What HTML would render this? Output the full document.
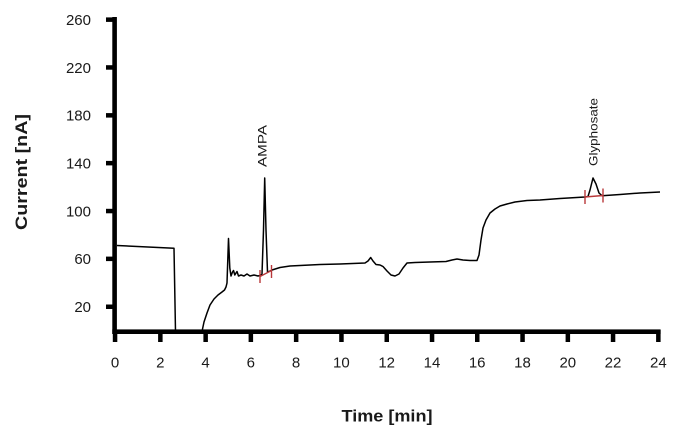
<!DOCTYPE html>
<html>
<head>
<meta charset="utf-8">
<style>
  html,body{margin:0;padding:0;background:#fff;}
  svg{display:block;}
  text{font-family:"Liberation Sans", sans-serif;fill:#1a1a1a;}
</style>
</head>
<body>
<svg width="680" height="431" viewBox="0 0 680 431" xmlns="http://www.w3.org/2000/svg">
  <rect x="0" y="0" width="680" height="431" fill="#fff"/>

  <!-- Y axis -->
  <rect x="112.3" y="17" width="4.6" height="317" fill="#000"/>
  <!-- Y ticks -->
  <g fill="#000">
    <rect x="106" y="17.4" width="8" height="4.5"/>
    <rect x="106" y="65.2" width="8" height="4.5"/>
    <rect x="106" y="113.1" width="8" height="4.5"/>
    <rect x="106" y="160.9" width="8" height="4.5"/>
    <rect x="106" y="208.8" width="8" height="4.5"/>
    <rect x="106" y="256.6" width="8" height="4.5"/>
    <rect x="106" y="304.5" width="8" height="4.5"/>
  </g>
  <!-- X axis -->
  <rect x="112.3" y="329.4" width="548.3" height="4.6" fill="#000"/>
  <!-- X ticks -->
  <g fill="#000">
    <rect x="112.8" y="330" width="4.5" height="12"/>
    <rect x="158.1" y="330" width="4.5" height="12"/>
    <rect x="203.4" y="330" width="4.5" height="12"/>
    <rect x="248.6" y="330" width="4.5" height="12"/>
    <rect x="293.9" y="330" width="4.5" height="12"/>
    <rect x="339.2" y="330" width="4.5" height="12"/>
    <rect x="384.5" y="330" width="4.5" height="12"/>
    <rect x="429.8" y="330" width="4.5" height="12"/>
    <rect x="475" y="330" width="4.5" height="12"/>
    <rect x="520.3" y="330" width="4.5" height="12"/>
    <rect x="565.6" y="330" width="4.5" height="12"/>
    <rect x="610.8" y="330" width="4.5" height="12"/>
    <rect x="656.1" y="330" width="4.5" height="12"/>
  </g>

  <!-- Y tick labels -->
  <g font-size="15" text-anchor="end">
    <text x="91" y="25">260</text>
    <text x="91" y="72.8">220</text>
    <text x="91" y="120.7">180</text>
    <text x="91" y="168.5">140</text>
    <text x="91" y="216.4">100</text>
    <text x="91" y="264.2">60</text>
    <text x="91" y="312.1">20</text>
  </g>
  <!-- X tick labels -->
  <g font-size="15" text-anchor="middle">
    <text x="115" y="367.5">0</text>
    <text x="160.3" y="367.5">2</text>
    <text x="205.6" y="367.5">4</text>
    <text x="250.8" y="367.5">6</text>
    <text x="296.1" y="367.5">8</text>
    <text x="341.4" y="367.5">10</text>
    <text x="386.7" y="367.5">12</text>
    <text x="432" y="367.5">14</text>
    <text x="477.2" y="367.5">16</text>
    <text x="522.5" y="367.5">18</text>
    <text x="567.8" y="367.5">20</text>
    <text x="613" y="367.5">22</text>
    <text x="658.4" y="367.5">24</text>
  </g>

  <!-- Axis titles -->
  <text x="387" y="421.5" font-size="17" font-weight="bold" text-anchor="middle" textLength="91" lengthAdjust="spacingAndGlyphs">Time [min]</text>
  <text transform="translate(27,172) rotate(-90)" font-size="17" font-weight="bold" text-anchor="middle" textLength="116" lengthAdjust="spacingAndGlyphs">Current [nA]</text>

  <!-- Peak labels -->
  <text transform="translate(266.5,167) rotate(-90)" font-size="12" textLength="42" lengthAdjust="spacingAndGlyphs">AMPA</text>
  <text transform="translate(597.5,166) rotate(-90)" font-size="12" textLength="68" lengthAdjust="spacingAndGlyphs">Glyphosate</text>

  <!-- Trace -->
  <polyline fill="none" stroke="#000" stroke-width="1.5" stroke-linejoin="round" points="
    117,245.5 174,248.3 175.5,331.5 202,331.5
    204,322 207,313 210,305 214,299 218,295 222,292 224.5,290 226,287 227,283
    228.5,238.5 229.8,268 231,276 232.5,272 233.5,270.5 234.8,275 236,273 237,271.5
    238.5,276 241,275 244,276 247,274 250,276 254,275 258,276 260,275.5 262,274
    263.5,230 264.7,178 266,230 267.5,272 269,271.5 272,270
    280,267.5 290,266 300,265.5 320,264.5 340,264 365,263 368,261 370.7,257.5
    373,261 376,264.5 380,265 383,266.5 387,271 391,275 395,276 399,274 403,268
    407,263 415,262.5 430,262 446,261.5 452,260 457,259 463,260 470,260.5 477,260.5
    479,255 481,240 483,228 486,220 490,213 495,209 500,206 507,204 515,202
    527,200.5 540,200 560,198.5 585,197 588,196.5 590,190 593,178 596,184 599,193
    602,195.7 620,194.5 640,193 660,192"/>

  <!-- Red integration markers -->
  <g stroke="#b8383a" stroke-width="1.4" fill="none">
    <line x1="260" y1="276.5" x2="271.5" y2="270.5"/>
    <line x1="260" y1="270" x2="260" y2="283"/>
    <line x1="271.5" y1="265" x2="271.5" y2="278"/>
    <line x1="585" y1="197" x2="603" y2="195.5"/>
    <line x1="585" y1="190" x2="585" y2="204"/>
    <line x1="603" y1="188.5" x2="603" y2="202.5"/>
  </g>
</svg>
</body>
</html>
